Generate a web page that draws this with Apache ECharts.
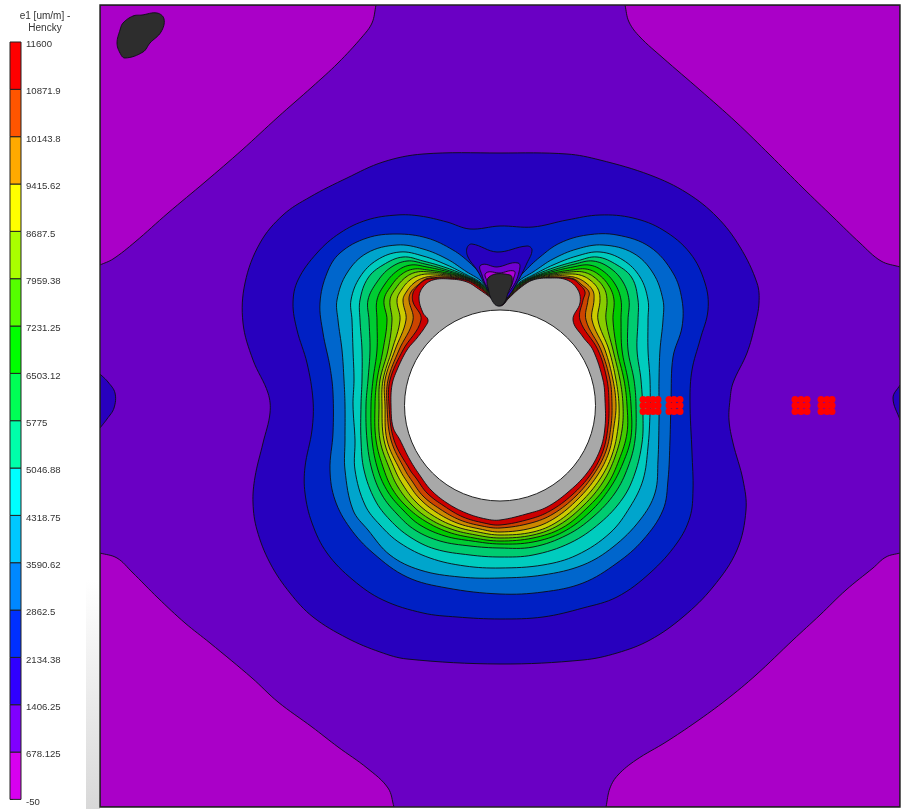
<!DOCTYPE html>
<html><head><meta charset="utf-8">
<style>html,body{margin:0;padding:0;background:#fff}#c{width:903px;height:809px}</style>
<script src="https://cdn.jsdelivr.net/npm/echarts@6/dist/echarts.min.js"></script>
</head><body><div id="c"></div>
<script>
// Legend
const legendLabels=['-50','678.125','1406.25','2134.38','2862.5','3590.62','4318.75','5046.88','5775','6503.12','7231.25','7959.38','8687.5','9415.62','10143.8','10871.9','11600'];
const legendLevels=[-50,678.125,1406.25,2134.375,2862.5,3590.625,4318.75,5046.875,5775,6503.125,7231.25,7959.375,8687.5,9415.625,10143.75,10871.875,11600];
const legendColors=['#D800F0','#8000FF','#3000FF','#0030FF','#0088FF','#00C8FF','#00FFFF','#00FFAA','#00FF55','#00FF00','#55FF00','#AAFF00','#FFFF00','#FFAA00','#FF5500','#FF0000'];
// Plot band fill colours (same order)
const bandColors=['#AA00C8','#6A00C4','#2800BE','#0020C4','#0066CC','#00A5CC','#00CCBE','#00CC70','#00CC33','#00CC00','#44CC00','#88CC00','#CCCC00','#CC8800','#CC4400','#CC0000'];
const overColor='#A8A8A8', underColor='#2D2D2D', blobA='#2800BE', blobB='#7000D0', blobC='#B000D8';

const frame=[[100,5],[900,5],[900,807],[100,807]];
const cornerTL=[[376,5],[372,23],[362,37],[338,63],[312,87],[278,117],[242,150],[205,182],[168,213],[135,242],[113,259],[100,265]];
const cornerTR=[[625,5],[629,22],[640,37],[663,58],[700,90],[736,122],[770,155],[803,188],[833,217],[860,243],[881,261],[900,267]];
const cornerBL=[[100,553],[117,558],[132,572],[158,598],[185,623],[210,643],[252,678],[278,702],[312,727],[338,747],[367,768],[388,788],[394,807]];
const cornerBR=[[900,553],[886,557],[873,568],[846,590],[820,615],[793,640],[756,675],[726,700],[696,722],[666,742],[636,760],[618,775],[610,788],[606,807]];
const cornerAnchorTL=[[100,5]], cornerAnchorTR=[[900,5]], cornerAnchorBL=[[100,807]], cornerAnchorBR=[[900,807]];
const patchTL=[[133,16],[142,15],[157,13],[164,19],[161,32],[150,43],[143,52],[125,58],[120,53],[117,43],[120,30],[123,23]];
const edgeL=[[100,374],[108,382],[115,393],[114,408],[107,419],[100,428]];
const edgeR=[[900,385],[893,398],[900,420]];

const c2=[[500,153],[567,154],[600,160],[650,175],[687,193],[717,217],[740,247],[757,283],[759,303],[755,325],[747,353],[733,383],[730,400],[729,420],[733,443],[743,480],[746,510],[737,550],[713,587],[683,617],[650,640],[617,653],[583,660],[500,664],[407,659],[380,652],[347,638],[313,617],[290,593],[270,563],[257,530],[253,503],[255,477],[263,443],[270,413],[268,393],[253,360],[243,323],[245,283],[260,243],[283,215],[310,197],[347,178],[383,162],[423,154]];
const c3=[[500,226],[533,227],[567,220],[600,215],[633,218],[663,230],[690,253],[705,283],[708,310],[700,340],[692,370],[690,400],[692,453],[693,490],[690,517],[677,543],[650,573],[617,597],[583,608],[543,617],[500,619],[457,617],[423,613],[383,600],[353,580],[327,553],[312,523],[305,493],[305,467],[312,430],[313,400],[307,363],[297,330],[293,303],[298,280],[317,253],[340,233],[367,220],[397,215],[420,216],[447,222],[470,229]];
const c4=[[500,300],[490,288],[481,275],[470,263],[453,250],[427,238],[397,234],[367,238],[340,253],[327,273],[320,303],[323,333],[330,367],[333,393],[333,433],[330,470],[335,500],[350,528],[373,553],[407,577],[447,588],[500,594],[543,592],[583,583],[617,563],[643,540],[663,510],[668,480],[670,440],[671,400],[673,357],[682,327],[682,300],[673,273],[650,247],[617,235],[587,235],[560,243],[540,257],[523,273],[510,288]];
const c5=[[500,301],[491,291],[480,280],[467,272],[447,259],[423,249],[397,245],[367,253],[347,273],[337,300],[338,320],[342,350],[344,380],[345,405],[345,440],[345,470],[353,510],[368,530],[390,555],[420,570],[460,577],[500,578],[543,575],[583,565],[613,547],[640,520],[655,493],[658,460],[659,420],[659,405],[659,380],[660,350],[663,320],[663,300],[653,273],[633,253],[603,245],[577,249],[553,259],[533,272],[520,280],[509,291]];
const c6=[[500,302],[491,292],[480,282],[467,275],[447,265],[423,256],[400,252],[377,260],[360,277],[351,300],[352,320],[353,350],[354,380],[353,405],[355,440],[355,470],[365,505],[380,525],[400,543],[430,558],[465,566],[500,568],[543,565],[577,555],[610,533],[630,507],[643,480],[648,447],[650,413],[650,380],[648,350],[648,320],[648,300],[640,277],[623,260],[600,252],[577,256],[553,265],[533,275],[520,282],[509,292]];
const c7=[[500,302.5],[491,293],[480,283],[467,276],[447,268],[423,261],[403,257],[383,265],[368,278],[360,300],[360,320],[362,350],[362,380],[361,405],[361,440],[364,470],[375,500],[390,520],[410,537],[435,549],[470,555],[500,557],[533,555],[570,543],[600,523],[623,498],[635,473],[642,443],[643,417],[641,380],[637,350],[638,320],[638,300],[632,278],[617,265],[597,257],[577,261],[553,268],[533,276],[520,283],[509,293]];
const c8=[[500,302.8],[491,293.5],[480,283.5],[467,277],[447,270],[425,264],[407,261],[390,268],[377,282],[368,300],[369,320],[370,350],[368,380],[366,405],[367,440],[372,470],[382,495],[397,514],[415,530],[440,541],[470,546],[500,548],[533,547],[567,535],[593,517],[615,493],[628,467],[635,440],[636,405],[634,380],[628,350],[628,320],[629,300],[623,282],[610,268],[593,261],[575,264],[553,270],[533,277],[520,283.5],[509,293.5]];
const c9=[[500,303],[491,294],[480,284],[467,277.5],[447,271.5],[427,267],[411,265],[397,271],[385,284],[377,300],[377,320],[377,350],[373,380],[371,405],[372,440],[378,470],[388,492],[403,510],[420,525],[445,536],[472,541],[500,544],[533,542],[563,532],[590,512],[610,488],[623,463],[631,437],[631,405],[628,380],[622,350],[621,320],[621,300],[615,284],[603,271],[589,265],[573,267],[553,271.5],[533,277.5],[520,284],[509,294]];
const c10=[[500,303.5],[491,295],[480,285],[467,278],[447,273],[428,270],[414,269],[402,274],[391,286],[384,300],[387,320],[383,350],[377,380],[375,405],[376,440],[384,470],[393,490],[407,507],[425,521],[448,532],[474,538],[500,541],[533,538],[562,528],[587,508],[607,485],[619,460],[627,433],[627,405],[624,380],[617,350],[613,320],[614,300],[609,286],[598,274],[586,269],[572,270],[553,273],[533,278],[520,285],[509,295]];
const c11=[[500,304],[491,295.5],[480,285.5],[467,278.5],[447,274],[430,272],[417,272],[406,277],[396,288],[390,300],[392,320],[388,350],[380,380],[379,405],[380,440],[390,470],[398,487],[411,504],[428,518],[451,529],[476,535],[500,538],[533,535],[559,525],[584,505],[603,482],[615,457],[622,430],[623,405],[620,380],[613,350],[606,320],[607,300],[604,288],[594,277],[583,272],[570,272],[553,274],[533,278.5],[520,285.5],[509,295.5]];
const c12=[[500,304.5],[491,296],[480,286],[467,279],[447,275],[432,274],[420,275],[410,280],[402,289],[397,300],[400,320],[392,350],[383,380],[382,405],[384,440],[395,470],[403,485],[415,501],[432,515],[454,526],[478,532],[500,535],[533,532],[557,522],[581,502],[600,479],[612,455],[618,428],[619,405],[616,380],[609,350],[598,320],[600,300],[598,289],[590,280],[580,275],[568,274],[553,275],[533,279],[520,286],[509,296]];
const c13=[[500,305],[491,296.5],[480,286.5],[467,279.5],[447,276],[434,276],[423,278],[414,283],[407,291],[403,300],[406,320],[395,350],[385,380],[385,405],[387,440],[400,470],[408,483],[419,498],[436,512],[457,523],[480,529],[500,532],[532,528],[555,518],[578,499],[597,476],[609,452],[614,426],[616,405],[613,380],[605,350],[592,320],[594,300],[593,291],[586,283],[577,278],[566,276],[553,276],[533,279.5],[520,286.5],[509,296.5]];
const c14=[[500,305.5],[491,297],[480,287],[467,280],[447,277],[436,277.5],[426,279],[418,285],[411,292],[409,300],[413,320],[399,350],[388,380],[387,405],[391,440],[405,470],[412,481],[423,496],[440,509],[460,520],[482,526],[500,528],[531,523],[553,514],[576,496],[594,474],[606,451],[611,426],[612,405],[610,380],[601,350],[586,320],[588,300],[589,292],[582,285],[574,279],[564,277.5],[553,277],[533,280],[520,287],[509,297]];
const c15=[[500,305.7],[491,297.5],[480,288],[467,280.5],[447,278],[428,279],[422,282],[417,287],[413,293],[413,302],[421,320],[403,350],[390,380],[389,405],[394,440],[410,470],[416,478],[427,493],[444,506],[463,517],[484,523],[500,525],[530,519],[550,511],[572,495],[591,474],[603,451],[608,427],[609,405],[607,380],[598,350],[580,320],[583,300],[585,292],[580,285],[572,279],[553,278],[533,280.5],[520,288],[509,297.5]];
const c16=[[500,306],[491,298],[480,290],[467,282],[450,279],[433,280],[423,287],[419,298],[423,313],[428,320],[425,327],[417,338],[407,350],[397,370],[392,385],[391,405],[393,427],[400,440],[410,460],[421,477],[431,490],[447,503],[466,513],[486,519],[500,520],[530,513],[547,507],[567,493],[587,473],[600,450],[605,427],[605,400],[603,380],[593,350],[583,337],[573,320],[580,303],[578,290],[567,280],[550,278],[533,280],[520,288],[509,298]];

const tipBlobA=[[467,248],[472,244],[497,252],[527,246],[532,250],[527,263],[517,283],[507,298],[500,302],[490,293],[477,270],[468,257]];
const tipBlobB=[[481,265],[497,267],[518,263],[519,272],[512,288],[500,298],[488,288],[482,275]];
const tipBlobC=[[486,273],[500,273],[514,271],[514,277],[508,290],[495,290],[488,282]];
const tipPatch=[[489,277],[510,275],[512,282],[508,293],[504,303],[498,306],[493,302],[489,292]];

const holeCenter=[500,405.5], holeRadius=95.5;

const markerX=[643,648,653,658,669,674,680,795,801,807,821,827,832];
const markerY=[399.5,405.5,411.5];

// draw list, back to front
const shapes=[
 {pts:frame,fill:bandColors[1],straight:true},
 {pts:cornerTL,extra:cornerAnchorTL,fill:bandColors[0]},
 {pts:cornerTR,extra:cornerAnchorTR,fill:bandColors[0]},
 {pts:cornerBL,extra:cornerAnchorBL,fill:bandColors[0]},
 {pts:cornerBR,extra:cornerAnchorBR,fill:bandColors[0]},
 {pts:patchTL,fill:underColor,closed:true},
 {pts:edgeL,extra:[],fill:bandColors[2]},
 {pts:edgeR,extra:[],fill:bandColors[2]},
 {pts:c2,fill:bandColors[2],closed:true},
 {pts:c3,fill:bandColors[3],closed:true},
 {pts:c4,fill:bandColors[4],closed:true},
 {pts:c5,fill:bandColors[5],closed:true},
 {pts:c6,fill:bandColors[6],closed:true},
 {pts:c7,fill:bandColors[7],closed:true},
 {pts:c8,fill:bandColors[8],closed:true},
 {pts:c9,fill:bandColors[9],closed:true},
 {pts:c10,fill:bandColors[10],closed:true},
 {pts:c11,fill:bandColors[11],closed:true},
 {pts:c12,fill:bandColors[12],closed:true},
 {pts:c13,fill:bandColors[13],closed:true},
 {pts:c14,fill:bandColors[14],closed:true},
 {pts:c15,fill:bandColors[15],closed:true},
 {pts:c16,fill:overColor,closed:true},
 {pts:tipBlobA,fill:blobA,closed:true},
 {pts:tipBlobB,fill:blobB,closed:true},
 {pts:tipBlobC,fill:blobC,closed:true},
 {pts:tipPatch,fill:underColor,closed:true}
];

function smooth(p,closed){
  const n=p.length,out=[],seg=closed?n:n-1,S=8;
  const at=i=>closed?p[(i+n)%n]:p[Math.max(0,Math.min(n-1,i))];
  const tan=i=>{const a=at(i-1),b=at(i+1);let x=b[0]-a[0],y=b[1]-a[1];const l=Math.hypot(x,y)||1;return [x/l,y/l];};
  for(let i=0;i<seg;i++){
    const A=at(i),B=at(i+1),d=Math.hypot(B[0]-A[0],B[1]-A[1])*0.36,t0=tan(i),t1=tan(i+1);
    const c1=[A[0]+t0[0]*d,A[1]+t0[1]*d],c2_=[B[0]-t1[0]*d,B[1]-t1[1]*d];
    for(let k=0;k<S;k++){
      const t=k/S,u=1-t;
      out.push([u*u*u*A[0]+3*u*u*t*c1[0]+3*u*t*t*c2_[0]+t*t*t*B[0],u*u*u*A[1]+3*u*u*t*c1[1]+3*u*t*t*c2_[1]+t*t*t*B[1]]);
    }
  }
  if(!closed)out.push(p[n-1]);
  return out;
}

const markerData=[];
markerY.forEach(y=>markerX.forEach(x=>markerData.push([x,y])));

const chart=echarts.init(document.getElementById('c'),null,{renderer:'canvas'});
chart.setOption({
 animation:false,
 backgroundColor:'#fff',
 title:{text:'e1 [um/m] -\nHencky',left:40,top:5,textAlign:'center',
   textStyle:{fontFamily:'Liberation Sans',fontSize:10,fontWeight:'normal',color:'#333',lineHeight:12}},
 graphic:[{type:'rect',z:-1,shape:{x:86,y:580,width:14,height:229},
   style:{fill:new echarts.graphic.LinearGradient(0,0,0,1,[{offset:0,color:'#ffffff'},{offset:1,color:'#d8d8d8'}])}}],
 grid:[
  {left:100,top:5,width:800,height:802},
  {left:10,top:42,width:11,height:757.4}
 ],
 xAxis:[
  {gridIndex:0,type:'value',min:100,max:900,show:false},
  {gridIndex:1,type:'value',min:0,max:1,show:false}
 ],
 yAxis:[
  {gridIndex:0,type:'value',min:5,max:807,inverse:true,show:false},
  {gridIndex:1,type:'value',position:'right',min:0,max:legendLevels[16]-legendLevels[0],interval:728.125,
   axisLine:{show:false},splitLine:{show:false},
   axisTick:{show:true,length:3,lineStyle:{color:'#222',width:1}},
   axisLabel:{margin:2,color:'#333',fontFamily:'Liberation Sans',fontSize:9.6,verticalAlign:'top',lineHeight:5,padding:[0,0,0,3],
     formatter:(v,i)=>legendLabels[Math.round(v/728.125)]}}
 ],
 series:[
  {type:'custom',xAxisIndex:0,yAxisIndex:0,silent:true,clip:true,
   data:shapes.map((_,i)=>[i]),
   renderItem:(params,api)=>{
     const s=shapes[params.dataIndex];
     let pts=s.straight?s.pts:smooth(s.pts,!!s.closed);
     if(s.extra)pts=pts.concat(s.extra);
     return {type:'polygon',shape:{points:pts.map(p=>api.coord(p))},
       style:{fill:s.fill,stroke:'#0c0c14',lineWidth:s.straight?0:0.9}};
   }},
  {type:'custom',xAxisIndex:0,yAxisIndex:0,silent:true,z:3,
   data:[holeCenter],
   renderItem:(params,api)=>{
     const c=api.coord(holeCenter),r=api.size([holeRadius,0])[0];
     return {type:'circle',shape:{cx:c[0],cy:c[1],r:r},style:{fill:'#fff',stroke:'#222',lineWidth:1}};
   }},
  {type:'scatter',xAxisIndex:0,yAxisIndex:0,silent:true,z:4,symbol:'circle',symbolSize:7,
   itemStyle:{color:'#FF0000',opacity:1},data:markerData},
  {type:'custom',xAxisIndex:0,yAxisIndex:0,silent:true,z:5,data:[[0]],
   renderItem:(params,api)=>({type:'polygon',shape:{points:frame.map(p=>api.coord(p))},
     style:{fill:'none',stroke:'#222',lineWidth:1.4}})},
  {type:'custom',xAxisIndex:1,yAxisIndex:1,silent:true,
   data:legendColors.map((_,i)=>[i]),
   renderItem:(params,api)=>{
     const i=params.dataIndex,base=legendLevels[0];
     const a=api.coord([0,legendLevels[i]-base]),b=api.coord([1,legendLevels[i+1]-base]);
     return {type:'rect',shape:{x:a[0],y:b[1],width:b[0]-a[0],height:a[1]-b[1]},
       style:{fill:legendColors[i],stroke:'#222',lineWidth:1}};
   }}
 ]
});
</script></body></html>
